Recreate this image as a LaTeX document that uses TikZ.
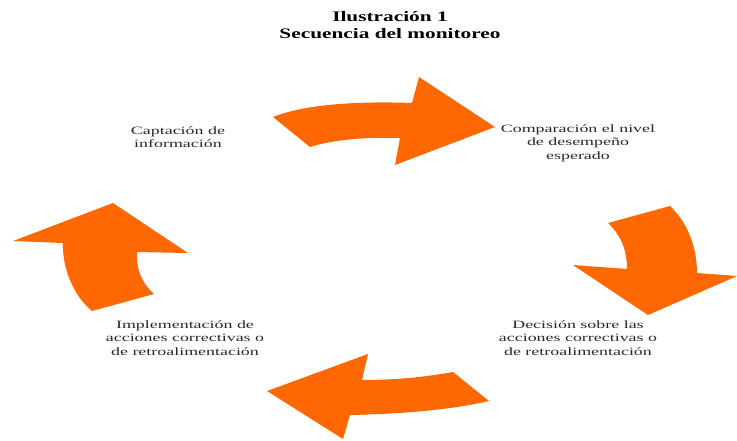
\documentclass[tikz,border=0pt]{standalone}
\usepackage{fontspec}
\setmainfont{Liberation Serif}
\newfontfamily\lblfont[FakeStretch=1.6]{Liberation Serif}
\newfontfamily\ttlfont[FakeStretch=1.47]{Liberation Serif}
\definecolor{cycleorange}{RGB}{255,104,0}
\definecolor{lbltext}{RGB}{40,40,40}
\tikzset{
  cyclearrow/.style={fill=cycleorange, draw=none},
  steplabel/.style={align=center, text=lbltext, inner sep=0pt,
    font=\lblfont\fontsize{11.2}{13.6}\selectfont},
  titlelabel/.style={align=center, text=black, inner sep=0pt,
    font=\ttlfont\bfseries\fontsize{14.5}{17}\selectfont}
}
\begin{document}
\begin{tikzpicture}[x=1pt, y=-1pt]
\useasboundingbox (0,0) rectangle (737,440);

% title
\node[titlelabel] (title) at (390,25) {Ilustración 1\\Secuencia del monitoreo};

% step labels
\node[steplabel] (captacion) at (178,137) {Captación de\\información};
\node[steplabel] (comparacion) at (578,143) {Comparación el nivel\\de desempeño\\esperado};
\node[steplabel] (decision) at (578,338) {Decisión sobre las\\acciones correctivas o\\de retroalimentación};
\node[steplabel] (implementacion) at (185,338) {Implementación de\\acciones correctivas o\\de retroalimentación};

% curved arrows of the cycle
% top: towards the right
\fill[cyclearrow] (273,117) .. controls (305,104) and (360,101) .. (412,103)
  -- (419,77) -- (495,127) -- (395,165) -- (400,138)
  .. controls (370,137) and (335,139) .. (310,147) -- cycle;
% right: downwards
\fill[cyclearrow] (608,223) -- (670,206)
  .. controls (686,221) and (697,245) .. (697,273)
  -- (737,276) -- (648,315) -- (573,265) -- (627,269)
  .. controls (627,252) and (622,236) .. (608,223) -- cycle;
% bottom: towards the left
\fill[cyclearrow] (453,372) .. controls (420,378) and (390,380) .. (362,380)
  -- (368,354) -- (267,391) -- (343,439) -- (350,415)
  .. controls (400,414) and (450,410) .. (489,401) -- cycle;
% left: upwards
\fill[cyclearrow] (92,311) -- (154,294)
  .. controls (141,282) and (136,268) .. (137,252)
  -- (188,253) -- (113,203) -- (13,241) -- (63,243)
  .. controls (62,265) and (72,295) .. (92,311) -- cycle;
\end{tikzpicture}
\end{document}
